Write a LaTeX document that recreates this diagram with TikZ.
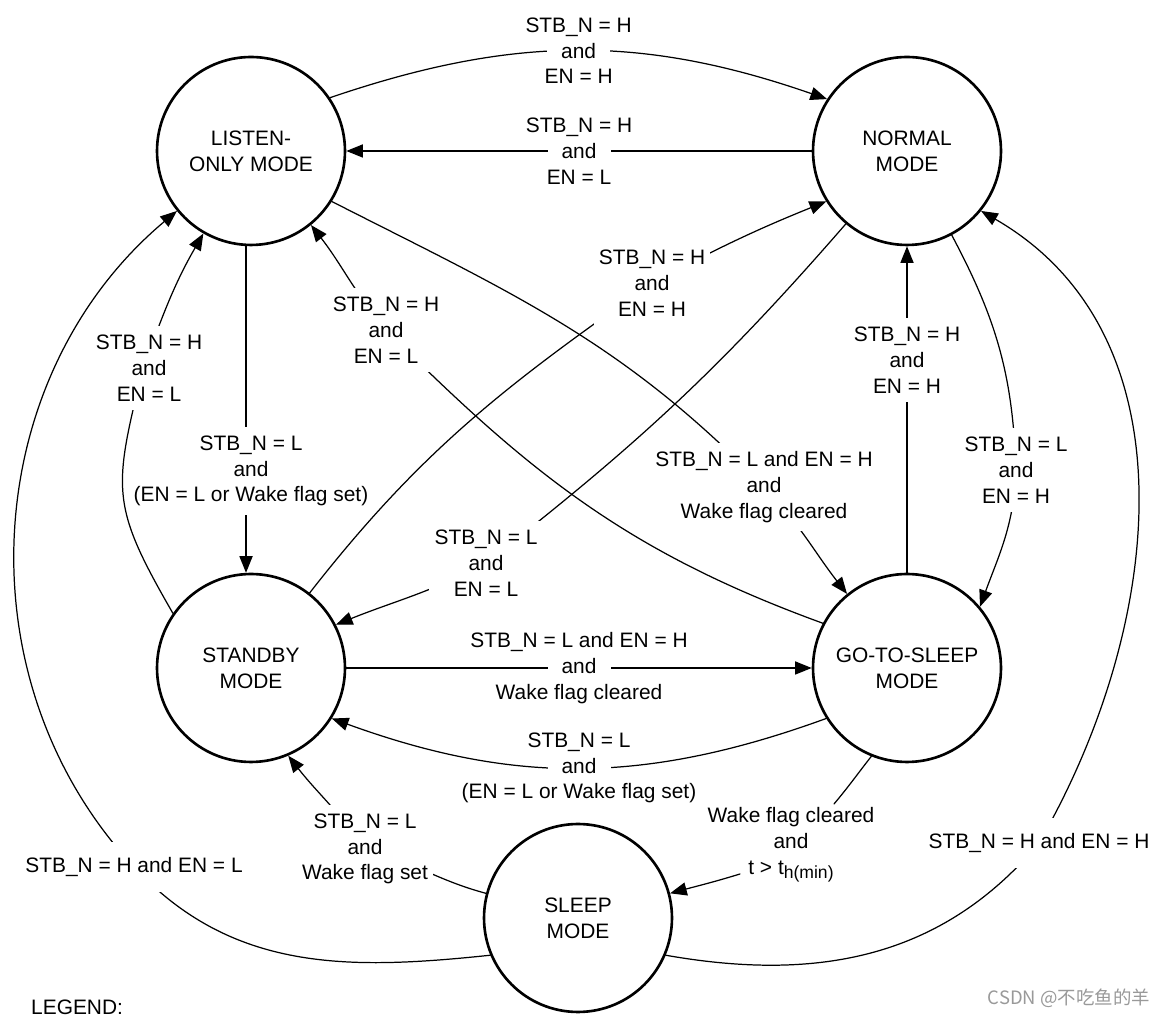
\documentclass[tikz,border=0pt]{standalone}
\usepackage{fontspec}
\setmainfont{Liberation Sans}
\newfontfamily\cjkfont{Noto Sans CJK SC}
\usetikzlibrary{arrows.meta}
% white gap behind the middle "and" of a label that a line runs through
\newcommand{\andgap}{{\setlength{\fboxsep}{0pt}\colorbox{white}{\hspace{8pt}and\hspace{8pt}}}}
\tikzset{
  mode/.style={circle,draw,line width=1.5pt,minimum size=3.76cm,inner sep=0pt,align=center},
  tr/.style={line width=0.7pt,-{Triangle[length=9.5pt,width=7.5pt]}},
  ln/.style={line width=0.7pt},
  cond/.style={fill=white,inner xsep=3pt,inner ysep=5pt,align=center},
  thru/.style={inner sep=0pt,align=center},
}
\begin{document}
\begin{tikzpicture}[x=0.02cm,y=0.02cm,font={\fontsize{11.9}{14.7}\selectfont},line cap=round,line join=round]
  \useasboundingbox (0,0) rectangle (1170,1017);
  % modes
  \node[mode] (LISTEN) at (251,866) {LISTEN-\\ONLY MODE};
  \node[mode] (NORMAL) at (907,866) {NORMAL\\MODE};
  \node[mode] (STANDBY) at (251,349) {STANDBY\\MODE};
  \node[mode] (GTS) at (907,349) {GO-TO-SLEEP\\MODE};
  \node[mode] (SLEEP) at (578,99) {SLEEP\\MODE};
  % label spots
  \coordinate (w1) at (764,530);
  \coordinate (w2) at (386,687);
  \coordinate (w3) at (251,546);
  \coordinate (w4) at (143,648);
  \coordinate (w5) at (134,150);
  \coordinate (w6) at (1039,174);
  \coordinate (w7) at (791,172);
  \coordinate (w7a) at (834,213);
  \coordinate (w7b) at (740,143);
  \coordinate (w8) at (365,168);
  \coordinate (wc) at (486,454);
  \coordinate (wd) at (652,734);
  \coordinate (wr) at (1016,547);
  \coordinate (wv) at (907,657);
  % transitions
  \draw[tr] (LISTEN.34) to[bend left=19] node[thru] (c1) {STB\_N = H\\\andgap\\EN = H} (NORMAL.147);
  \draw[tr] (NORMAL.180) -- node[thru] (c2) {STB\_N = H\\\andgap\\EN = L} (LISTEN.0);
  \draw[tr] (STANDBY.0) -- node[thru] (c3) {STB\_N = L and EN = H\\\andgap\\Wake flag cleared} (GTS.180);
  \draw[tr] (GTS.212) to[bend left=20] node[thru] (c4) {STB\_N = L\\\andgap\\(EN = L or Wake flag set)} (STANDBY.-32);
  \draw[tr] (LISTEN.267) -- (STANDBY.93);
  \draw[tr] (GTS.90) -- (NORMAL.270);
  \draw[tr] (STANDBY.145) to[out=120,in=256,looseness=1.3] (w4) to[out=70,in=240] (LISTEN.240);
  \draw[tr] (SLEEP.203) to[out=186,in=-47] (w5) to[out=133,in=220] (LISTEN.219);
  \draw[tr] (SLEEP.-23) to[out=-10,in=230] (w6) to[out=60,in=-30] (NORMAL.-39);
  \draw[ln] (GTS.248) to[out=232,in=50] (w7a);
  \draw[tr] (w7b) to[out=197,in=15] (SLEEP.15);
  \draw[tr] (SLEEP.165) to[out=165,in=-15] (w8) to[out=125,in=-52] (STANDBY.-67);
  \draw[tr] (GTS.152) to[out=160,in=-45] (w2) to[out=130,in=-52] (LISTEN.309);
  \draw[tr] (LISTEN.-32) to[out=-27,in=134] (w1) to[out=-46,in=128] (GTS.129);
  \draw[tr] (NORMAL.230) to[out=229,in=38] (wc) to[out=208,in=22] (STANDBY.27);
  \draw[tr] (STANDBY.52) to[out=52,in=215] (wd) to[out=28,in=202] (NORMAL.212);
  \draw[tr] (NORMAL.298) to[out=-62,in=92] (wr) to[out=-92,in=70] (GTS.40);
  % conditions
  \node[cond] (l1) at (w1) {STB\_N = L and EN = H\\and\\Wake flag cleared};
  \node[cond] (l2) at (w2) {STB\_N = H\\and\\EN = L};
  \node[cond,inner xsep=1pt] (l3) at (w3) {STB\_N = L\\and\\(EN = L or Wake flag set)};
  \node[cond] (l4) at (149,649) {STB\_N = H\\and\\EN = L};
  \node[cond,inner ysep=9pt] (l5) at (w5) {STB\_N = H and EN = L};
  \node[cond,inner ysep=9pt] (l6) at (w6) {STB\_N = H and EN = H};
  \node[align=center] (l7) at (w7) {Wake flag cleared\\and\\t > t\raisebox{-0.4ex}{\fontsize{10}{10}\selectfont h(min)}};
  \node[cond] (l8) at (w8) {STB\_N = L\\and\\Wake flag set};
  \node[cond] (lc) at (wc) {STB\_N = L\\and\\EN = L};
  \node[cond] (ld) at (wd) {STB\_N = H\\and\\EN = H};
  \node[cond] (lr) at (wr) {STB\_N = L\\and\\EN = H};
  \node[cond] (lv) at (wv) {STB\_N = H\\and\\EN = H};
  \node[anchor=base west] (legend) at (25,2) {LEGEND:};
  \node[text=black!40,font={\cjkfont\fontsize{10.5}{12}\selectfont}] (mark) at (1069,19) {CSDN @不吃鱼的羊};
\end{tikzpicture}
\end{document}
